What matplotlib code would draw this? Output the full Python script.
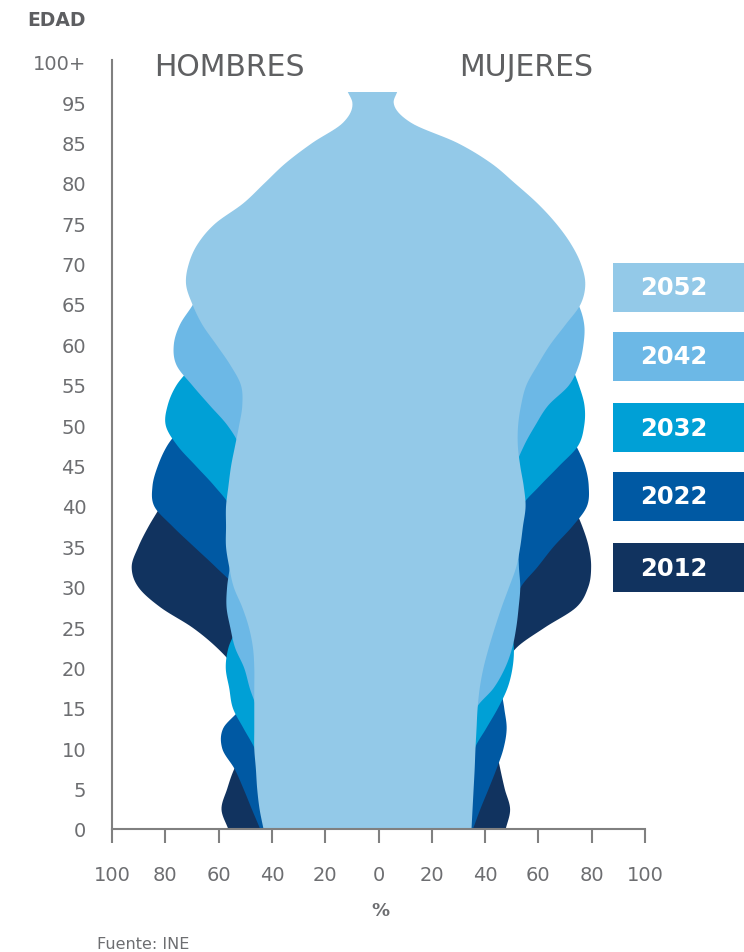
import numpy as np
import matplotlib
matplotlib.use("Agg")
import matplotlib.pyplot as plt
from matplotlib.patches import Rectangle

plt.rcParams["font.family"] = ["DejaVu Sans"]

# edad (posicion en el eje vertical)
edad = [0, 2.5, 5, 7.5, 10, 12.5, 15, 17.5, 20, 22.5, 25, 27.5, 30, 32.5, 35, 37.5,
        40, 42.5, 45, 47.5, 50, 52.5, 55, 57.5, 60, 62.5, 65, 67.5, 70, 72.5, 75,
        77.5, 80, 82.5, 85, 87.5, 90, 91.3]

# hombres (lado izquierdo)
h2012 = [56.5, 59.1, 57.0, 54.3, 50.0, 49.0, 48.0, 50.0, 54.0, 60.8, 70.0, 82.0, 90.3, 92.8, 90.3, 86.5,
         82.0, 78.0, 74.0, 70.0, 66.0, 62.0, 60.0, 58.0, 55.0, 52.0, 49.0, 46.0, 42.0, 39.0, 35.0,
         30.0, 25.0, 19.0, 13.0, 6.0, 3.0, 1.5]
h2022 = [44.5, 47.7, 50.8, 54.2, 58.8, 58.5, 52.0, 50.0, 49.0, 49.0, 50.0, 52.0, 54.0, 61.3, 69.4, 77.4,
         84.3, 85.0, 83.0, 79.5, 74.0, 70.0, 66.0, 62.0, 58.0, 54.0, 51.0, 48.0, 45.0, 42.0, 38.0,
         33.0, 28.0, 22.0, 15.0, 7.0, 4.0, 2.0]
h2032 = [40.0, 41.0, 42.0, 44.0, 46.6, 50.8, 54.8, 56.2, 57.5, 56.5, 53.5, 53.0, 53.0, 54.0, 55.0, 55.5,
         56.0, 61.7, 68.7, 75.6, 80.0, 79.3, 76.0, 70.0, 66.0, 62.0, 58.0, 55.0, 52.0, 48.0, 43.0,
         37.0, 32.0, 25.0, 17.0, 8.0, 5.0, 3.0]
h2042 = [42.0, 43.0, 44.0, 44.5, 45.0, 45.5, 46.0, 48.5, 50.6, 54.0, 55.8, 57.2, 57.0, 56.0, 55.5, 55.0,
         54.0, 53.0, 52.5, 52.5, 56.8, 63.5, 70.1, 76.0, 77.0, 74.7, 69.8, 66.0, 64.0, 60.0, 55.0,
         45.0, 38.0, 30.0, 20.0, 10.0, 7.0, 5.0]
h2052 = [43.3, 44.8, 45.7, 46.2, 46.8, 46.8, 46.8, 46.8, 46.8, 47.3, 48.8, 51.3, 54.5, 56.2, 57.4, 57.4,
         57.4, 56.5, 55.5, 54.0, 52.5, 51.3, 51.8, 55.8, 61.0, 66.3, 70.0, 72.4, 71.4, 68.0, 61.5,
         51.0, 43.0, 35.0, 25.0, 13.5, 10.0, 11.7]

# mujeres (lado derecho)
m2012 = [47.5, 49.2, 47.2, 45.5, 44.0, 43.5, 43.5, 45.0, 47.0, 51.6, 62.2, 74.0, 78.5, 79.6, 78.7, 76.3,
         73.0, 69.0, 65.0, 62.0, 59.0, 56.0, 53.0, 50.0, 47.0, 44.0, 41.0, 38.0, 35.0, 32.0, 28.0,
         24.0, 19.0, 14.0, 9.0, 4.0, 2.0, 1.0]
m2022 = [35.2, 38.0, 41.1, 44.1, 46.7, 47.9, 47.0, 46.0, 47.0, 48.0, 49.0, 51.0, 53.2, 59.5, 65.5, 72.5,
         78.0, 78.7, 77.3, 74.0, 70.0, 66.0, 62.0, 58.0, 55.0, 52.0, 49.0, 46.0, 43.0, 40.0, 36.0,
         31.0, 26.0, 20.0, 13.0, 5.0, 2.5, 2.0]
m2032 = [32.0, 33.0, 34.0, 35.0, 35.9, 40.2, 44.6, 48.2, 50.1, 50.6, 49.5, 49.5, 50.0, 50.5, 51.0, 52.0,
         53.5, 60.2, 67.6, 74.7, 77.0, 77.1, 75.0, 72.0, 68.0, 64.0, 60.0, 56.0, 52.0, 48.0, 44.0,
         38.0, 33.0, 27.0, 18.0, 6.0, 3.0, 3.0]
m2042 = [33.5, 34.0, 34.5, 35.0, 35.5, 36.0, 36.5, 43.0, 47.3, 50.0, 51.5, 52.4, 53.0, 52.5, 52.3, 52.5,
         52.5, 52.0, 51.5, 54.4, 58.6, 63.5, 71.3, 75.0, 76.7, 77.0, 74.8, 70.0, 66.0, 62.0, 57.0,
         50.0, 43.0, 36.0, 24.0, 8.0, 4.0, 4.0]
m2052 = [34.7, 35.1, 35.5, 35.9, 36.2, 36.6, 37.0, 37.8, 39.2, 41.2, 43.5, 46.0, 48.8, 51.5, 53.0, 54.0,
         55.0, 54.3, 53.0, 52.1, 52.2, 53.3, 55.3, 59.5, 64.2, 70.0, 75.6, 77.4, 75.8, 72.0, 66.5,
         59.5, 51.0, 42.0, 29.4, 12.0, 5.5, 6.8]

anios = ["2012", "2022", "2032", "2042", "2052"]
hombres = [h2012, h2022, h2032, h2042, h2052]
mujeres = [m2012, m2022, m2032, m2042, m2052]
colores = ["#11335f", "#0059a3", "#00a0d6", "#6cb8e6", "#93c9e8"]

y_ticks = list(range(0, 100, 5))
y_labels = ["0", "5", "10", "15", "20", "25", "30", "35", "40", "45", "50", "55",
            "60", "65", "70", "75", "80", "85", "95", "100+"]
x_ticks = list(range(-100, 101, 20))

gris = "#6d6e71"
W, H = 744, 953


def suave(a, v, n=10):
    # curva suave (hermite) para dibujar el contorno
    a = np.asarray(a, float)
    v = np.asarray(v, float)
    m = np.gradient(v, a)
    t = np.linspace(0, 1, n, endpoint=False)
    h00 = 2 * t**3 - 3 * t**2 + 1
    h10 = t**3 - 2 * t**2 + t
    h01 = -2 * t**3 + 3 * t**2
    h11 = t**3 - t**2
    ya, yv = [], []
    for i in range(len(a) - 1):
        h = a[i + 1] - a[i]
        ya.append(a[i] + t * h)
        yv.append(h00 * v[i] + h10 * h * m[i] + h01 * v[i + 1] + h11 * h * m[i + 1])
    ya.append([a[-1]])
    yv.append([v[-1]])
    return np.concatenate(ya), np.concatenate(yv)


fig = plt.figure(figsize=(W / 100, H / 100), dpi=100)
ax = fig.add_axes([112 / W, 1 - 830 / H, (645 - 112) / W, (830 - 61) / H])

for hv, mv, c in zip(hombres, mujeres, colores):
    y1, left = suave(edad, hv)
    y2, right = suave(edad, mv)
    ax.fill_betweenx(y1, -left, right, color=c, lw=0)

ax.set_xlim(-100, 100)
ax.set_ylim(0, 95.2)
for s in ["top", "right"]:
    ax.spines[s].set_visible(False)
for s in ["left", "bottom"]:
    ax.spines[s].set_color("#808080")
    ax.spines[s].set_linewidth(1.5)

ax.set_yticks(y_ticks)
ax.set_yticklabels(y_labels)
ax.set_xticks(x_ticks)
ax.set_xticklabels([str(abs(t)) for t in x_ticks])
ax.tick_params(axis="y", length=0, pad=18.5, labelsize=14, labelcolor=gris)
ax.tick_params(axis="x", direction="out", length=10, width=1.5, color="#808080",
               pad=16, labelsize=14, labelcolor=gris)

fig.text(27 / W, 1 - 21 / H, "EDAD", fontsize=13.5, fontweight="bold", color="#5d5e61",
         ha="left", va="center")
fig.text(229 / W, 1 - 67 / H, "HOMBRES", fontsize=21.5, color="#5f6062", ha="center", va="center")
fig.text(526 / W, 1 - 67 / H, "MUJERES", fontsize=21.5, color="#5f6062", ha="center", va="center")
fig.text(380 / W, 1 - 911 / H, "%", fontsize=13, fontweight="bold", color=gris,
         ha="center", va="center")
fig.text(97 / W, 1 - 945 / H, "Fuente: INE", fontsize=11.5, color=gris, ha="left", va="center")

# leyenda en cajas
tops = [544, 473, 404, 333, 264]
for anio, c, top in zip(anios, colores, tops):
    fig.patches.append(Rectangle((613 / W, 1 - (top + 49) / H), (W - 613) / W, 49 / H,
                                 transform=fig.transFigure, color=c, lw=0))
    fig.text(674 / W, 1 - (top + 24.5) / H, anio, fontsize=17.5, fontweight="bold",
             color="white", ha="center", va="center")

fig.savefig("out.png", dpi=100)
